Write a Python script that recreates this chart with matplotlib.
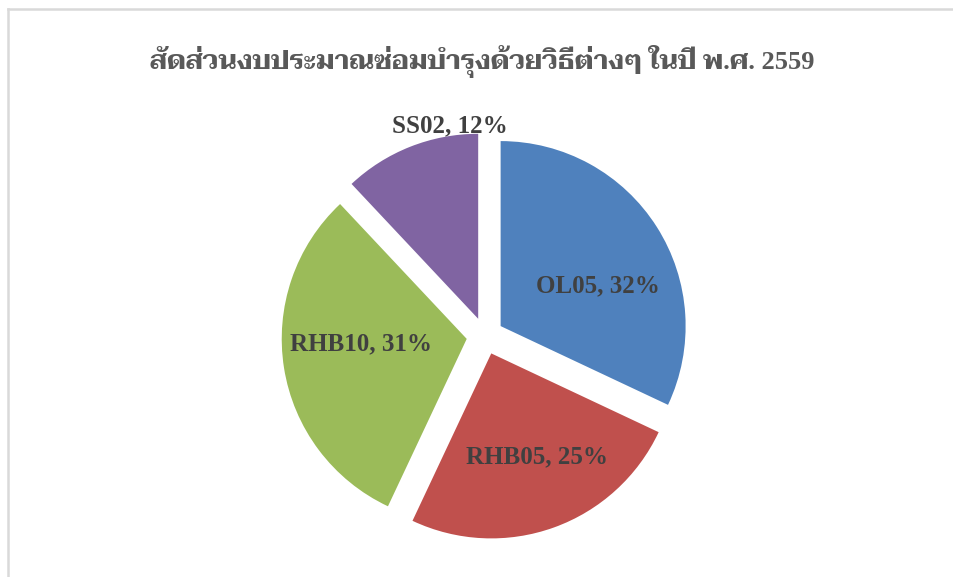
import matplotlib
matplotlib.use('Agg')
import matplotlib.pyplot as plt
import numpy as np

# data
labels = ['OL05', 'RHB05', 'RHB10', 'SS02']
shares = [32, 25, 31, 12]
colors = ['#4F81BD', '#C0504D', '#9BBB59', '#8064A2']
title = 'สัดส่วนงบประมาณซ่อมบำรุงด้วยวิธีต่างๆ ในปี พ.ศ. 2559'

W, H = 954, 577
fig = plt.figure(figsize=(W / 100, H / 100), dpi=100)

# light grey chart frame (left + top only visible)
fig.add_artist(plt.Line2D([8 / W, 8 / W], [0, 1 - 9 / H], color='#D9D9D9', lw=1.8))
fig.add_artist(plt.Line2D([8 / W, 1], [1 - 9 / H, 1 - 9 / H], color='#D9D9D9', lw=1.8))

fig.text(482 / W, 1 - 62 / H, title, ha='center', va='center', fontsize=19,
         weight='bold', color='#595959', family=['Liberation Serif', 'Taviraj'])

# pie: radius 1 == 185 px, centre at (485, 335) px
r_px = 185
cx, cy = 485, 336
half = 260
ax = fig.add_axes([(cx - half) / W, 1 - (cy + half) / H, 2 * half / W, 2 * half / H])
wedges, _ = ax.pie(shares, colors=colors, explode=[0.1] * 4, startangle=90,
                   counterclock=False, wedgeprops=dict(linewidth=0))
lim = half / r_px
ax.set_xlim(-lim, lim)
ax.set_ylim(-lim, lim)
ax.axis('off')

# label radial distance and angle nudge (deg) per slice
lab_dist = [0.67, 0.71, 0.67, 1.15]
lab_nudge = [-8.5, 3.5, -5.5, -12]
for w, lab, s, d, n in zip(wedges, labels, shares, lab_dist, lab_nudge):
    ang = np.deg2rad((w.theta1 + w.theta2) / 2 + n)
    ax.text(d * np.cos(ang), d * np.sin(ang), f'{lab}, {s}%', ha='center', va='center',
            fontsize=18, weight='bold', color='#404040', family='Liberation Serif')

fig.savefig('out.png')
